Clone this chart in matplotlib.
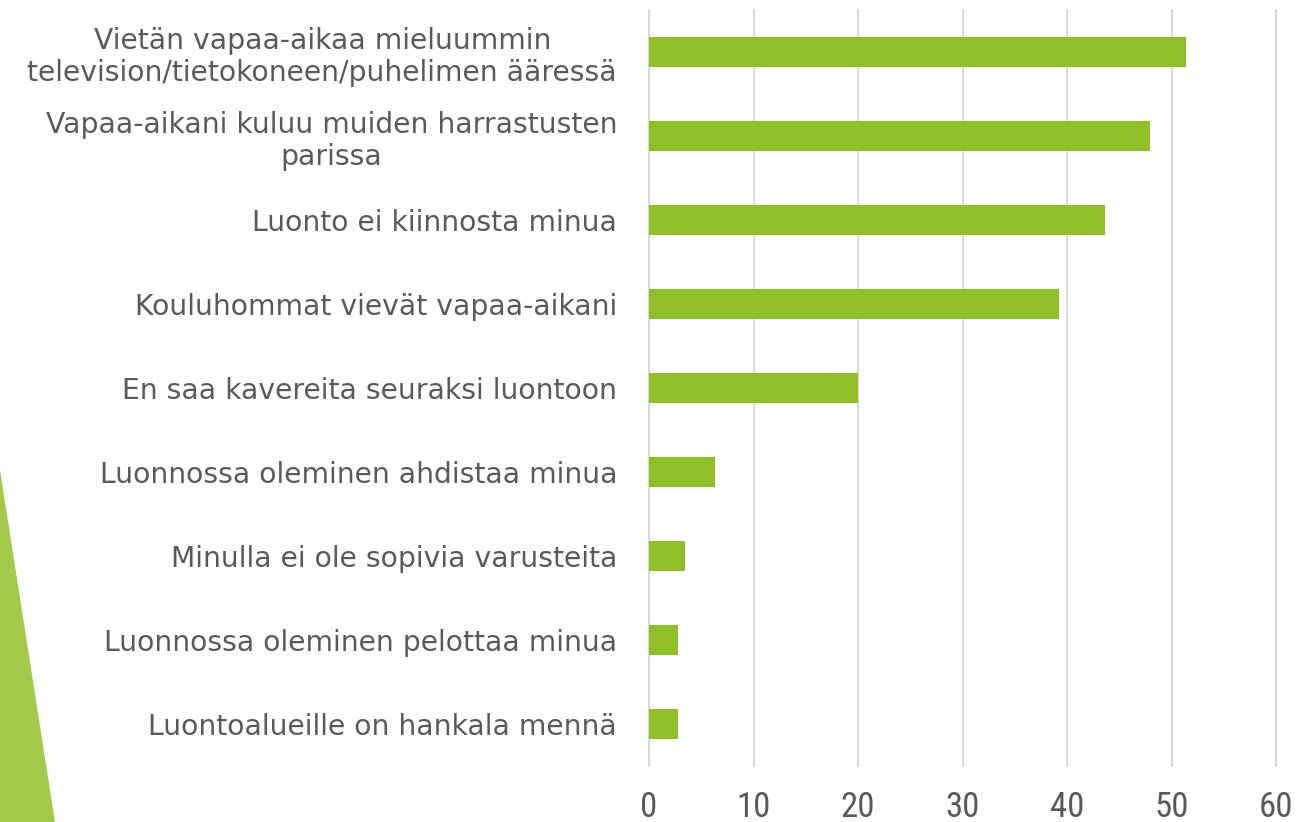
import matplotlib
matplotlib.use("Agg")
import matplotlib.pyplot as plt
from matplotlib.patches import Polygon
from matplotlib import font_manager

categories = [
    "Vietän vapaa-aikaa mieluummin\ntelevision/tietokoneen/puhelimen ääressä",
    "Vapaa-aikani kuluu muiden harrastusten\nparissa",
    "Luonto ei kiinnosta minua",
    "Kouluhommat vievät vapaa-aikani",
    "En saa kavereita seuraksi luontoon",
    "Luonnossa oleminen ahdistaa minua",
    "Minulla ei ole sopivia varusteita",
    "Luonnossa oleminen pelottaa minua",
    "Luontoalueille on hankala mennä",
]
values = [51.4, 47.9, 43.6, 39.2, 20.0, 6.3, 3.4, 2.8, 2.8]
xticks = [0, 10, 20, 30, 40, 50, 60]

names = {f.name for f in font_manager.fontManager.ttflist}
tick_family = "DejaVu Sans"
for cand in ["Liberation Sans Narrow", "Roboto Condensed", "Open Sans Condensed", "DejaVu Sans Condensed"]:
    if cand in names:
        tick_family = cand
        break

W, H = 1299, 822
fig = plt.figure(figsize=(W / 100, H / 100), dpi=100)
fig.patch.set_facecolor("white")

tri = Polygon([(0 / W, 1 - 470 / H), (55 / W, 0), (0, 0)], closed=True,
              transform=fig.transFigure, facecolor="#A2C948", edgecolor="none", zorder=0)
fig.patches.append(tri)

ax = fig.add_axes([649 / W, 1 - 766 / H, (1276 - 649) / W, (766 - 10) / H])
y = list(range(len(categories)))
ax.barh(y, values, height=0.36, color="#8FC127", zorder=3)
ax.set_ylim(len(categories) - 0.5, -0.5)
ax.set_xlim(0, 60)
ax.set_xticks(xticks)
ax.set_xticklabels([str(t) for t in xticks], fontsize=25, color="#595959",
                   family=[tick_family, "DejaVu Sans"], fontstretch="condensed")
ax.set_yticks(y)
ax.set_yticklabels(categories, fontsize=20.3, color="#595959", multialignment="center",
                   family=["DejaVu Sans"])
ax.tick_params(axis="both", length=0)
ax.tick_params(axis="y", pad=23)
ax.tick_params(axis="x", pad=18)
ax.set_axisbelow(True)
for t in xticks:
    ax.axvline(t, color="#D9D9D9", linewidth=1.5, zorder=0, clip_on=False)
for s in ax.spines.values():
    s.set_visible(False)

fig.savefig("out.png", dpi=100)
